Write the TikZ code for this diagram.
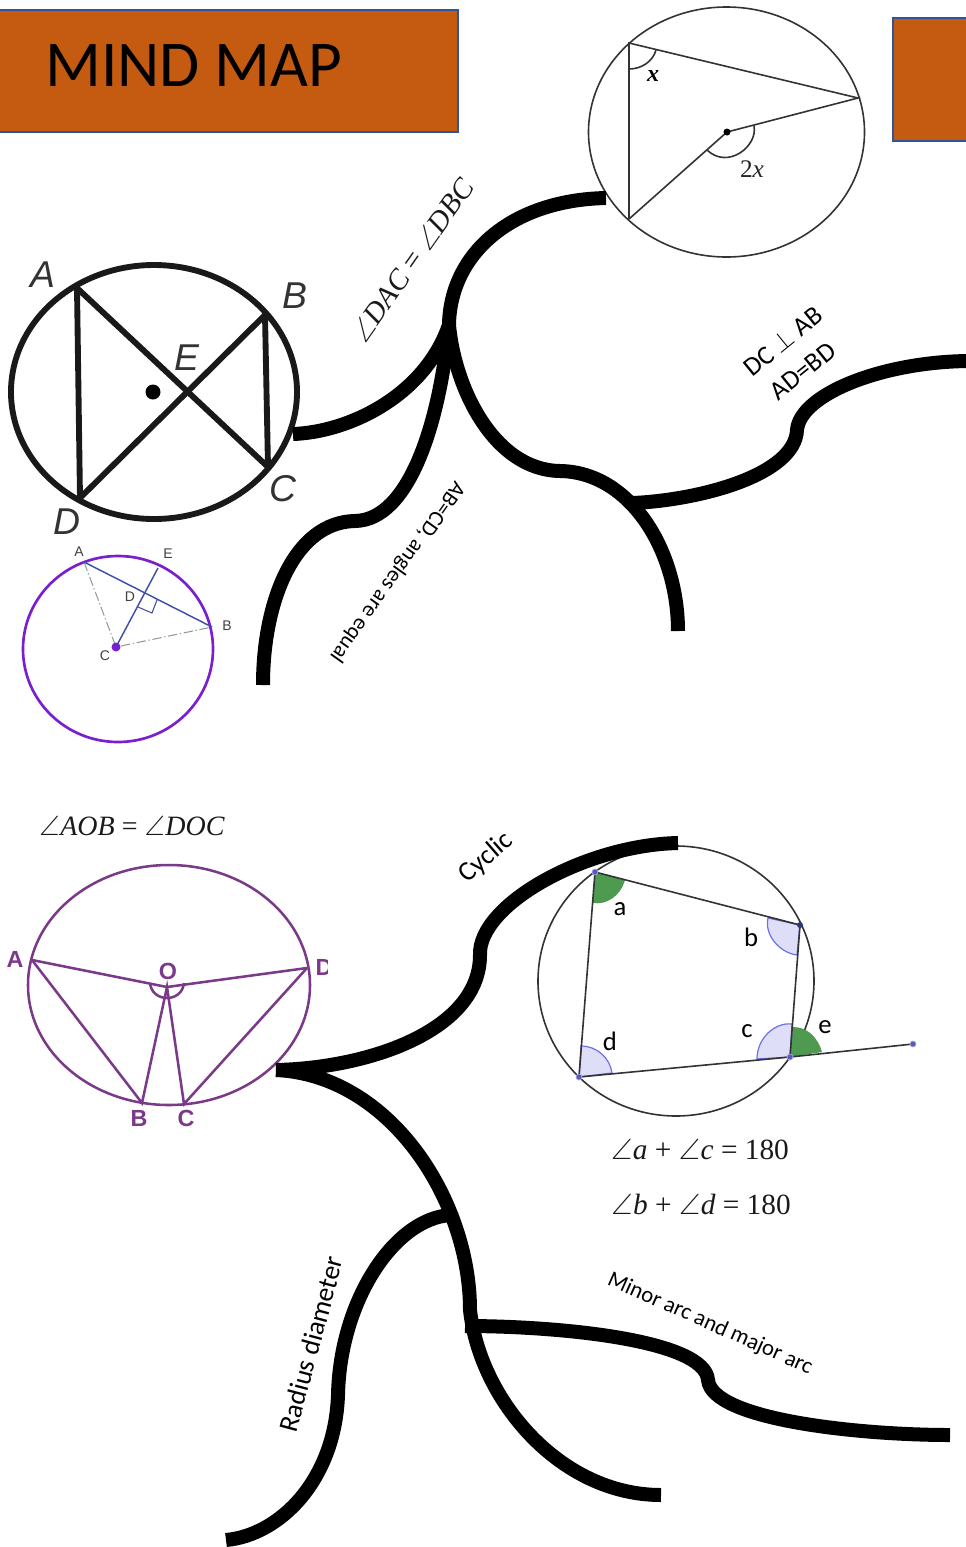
\documentclass[tikz,border=0pt]{standalone}
\usepackage{fix-cm}
\usepackage{amssymb}
\usepackage{fontspec}
\setmainfont{Carlito}
\newfontfamily\helvfont{Liberation Sans}
\newfontfamily\timesfont{Liberation Serif}
\usepackage{xcolor}
\usepackage{tikz}
\definecolor{BoxOrange}{HTML}{C55A11}
\definecolor{BoxEdge}{HTML}{2F5597}
\definecolor{ChordPurple}{HTML}{7A3A87}
\definecolor{RingViolet}{HTML}{7A1FD0}
\definecolor{ChordBlue}{HTML}{3F4FA8}
\definecolor{DashGrey}{HTML}{8FA08F}
\definecolor{SectorGreen}{HTML}{4E9A50}
\definecolor{SectorLilac}{HTML}{DEDEF8}
\definecolor{SectorEdge}{HTML}{6F6FE6}
\newcommand{\angvar}[1]{$\angle$\kern0.5pt{\itshape #1}}

\begin{document}
\begin{tikzpicture}[x=0.75pt, y=-0.75pt, every node/.style={inner sep=0pt, align=center}]
    \tikzstyle{orangebox}=[draw=BoxEdge, line width=1.6pt, fill=BoxOrange]
    \tikzstyle{branch}=[line width=10.5pt, black, line cap=butt]
    \tikzstyle{thickring}=[line width=4.4pt, black!90]
    \tikzstyle{thinring}=[line width=1.2pt, black!80]
    \tikzstyle{purplering}=[line width=1.9pt, ChordPurple]
    \tikzstyle{sketchlabel}=[font=\helvfont\itshape\fontsize{28}{30}\selectfont, text=black!80]
    \tikzstyle{smalllabel}=[font=\helvfont\fontsize{10.5}{12}\selectfont, text=black!75]
    \tikzstyle{purplelabel}=[font=\helvfont\bfseries\fontsize{17.5}{19}\selectfont, text=ChordPurple]
    \tikzstyle{anglelabel}=[font=\timesfont\fontsize{22}{24}\selectfont, text=black!90]
    \tikzstyle{formula}=[font=\timesfont\fontsize{21}{24}\selectfont, text=black!90]
    \tikzstyle{sumformula}=[font=\timesfont\fontsize{22}{24}\selectfont, text=black!90]
    \tikzstyle{sector}=[fill=SectorLilac, draw=SectorEdge, line width=0.9pt]
    \tikzstyle{vertexdot}=[fill=SectorEdge!80!black, draw=SectorEdge!60, line width=0.5pt]

    \useasboundingbox (0,0) rectangle (966,1547);

    % header boxes
    \draw[orangebox] (-6,10) rectangle (458,132);
    \draw[orangebox] (893,18) rectangle (975,141);
    \node[anchor=base west, font=\fontsize{49}{54}\selectfont] (title) at (45,86) {MIND MAP};

    % inscribed and central angle
    \coordinate (tl) at (629,43);
    \coordinate (tr) at (858,98);
    \coordinate (tb) at (629,219);
    \coordinate (tc) at (727,132);
    \draw[thinring] (726.5,132) ellipse [x radius=138, y radius=125];
    \draw[thinring] (tb) -- (tl) -- (tr) -- (tc) -- (tb);
    \draw[thinring] (629,69) .. controls (642,69) and (653,61) .. (656,50);
    \draw[thinring] (754,126) .. controls (758,146) and (728,170) .. (707,150);
    \fill (tc) circle (3.5);
    \node[font=\timesfont\bfseries\itshape\fontsize{18}{20}\selectfont] (xangle) at (653,76) {x};
    \node[font=\timesfont\fontsize{19}{20}\selectfont, text=black!85] (twox) at (752,169) {2\textit{x}};

    % equal angles on one chord
    \coordinate (ca) at (77,288);
    \coordinate (cb) at (265,315);
    \coordinate (cc) at (268,467);
    \coordinate (cd) at (80,498);
    \draw[thickring] (154,392) ellipse [x radius=143, y radius=127];
    \draw[thickring] (ca) -- (cc);
    \draw[thickring] (cb) -- (cd);
    \draw[thickring] (ca) -- (cd);
    \draw[thickring] (cb) -- (cc);
    \fill[black] (153,392) circle (7.5);
    \node[sketchlabel] (la) at (43,275) {A};
    \node[sketchlabel] (lb) at (295,296) {B};
    \node[sketchlabel] (le) at (187,358) {E};
    \node[sketchlabel] (lc) at (283,489) {C};
    \node[sketchlabel] (ld) at (67,522) {D};

    % perpendicular from the centre
    \coordinate (pa) at (84,562);
    \coordinate (pb) at (212,627);
    \coordinate (pc) at (116,647);
    \coordinate (pe) at (158,568);
    \draw[line width=2pt, RingViolet] (118,649) ellipse [x radius=95, y radius=93];
    \draw[line width=0.8pt, DashGrey, dash pattern=on 7pt off 2pt on 1pt off 2pt] (pa) -- (pc) -- (pb);
    \draw[line width=1.1pt, ChordBlue] (pa) -- (pb);
    \draw[line width=1.1pt, ChordBlue] (pc) -- (pe);
    \draw[line width=0.8pt, ChordBlue] (138,607) -- (152,613) -- (157,600);
    \fill[RingViolet] (pc) circle (4.5);
    \node[smalllabel] (pla) at (79,552) {A};
    \node[smalllabel] (ple) at (168,554) {E};
    \node[smalllabel] (pld) at (130,597) {D};
    \node[smalllabel] (plb) at (227,626) {B};
    \node[smalllabel] (plc) at (105,656) {C};

    % equal chords
    \node[formula] (aobdoc) at (132,826) {\angvar{AOB} = \angvar{DOC}};
    \coordinate (ea) at (32,960);
    \coordinate (ed) at (307,968);
    \coordinate (eb) at (142,1103);
    \coordinate (ec) at (184,1104);
    \coordinate (eo) at (167,987);
    \draw[purplering] (169,985) ellipse [x radius=141, y radius=120];
    \draw[purplering] (ea) -- (eo) -- (ed);
    \draw[purplering] (ea) -- (eb) -- (eo) -- (ec) -- (ed);
    \draw[purplering] (150,983) .. controls (152,1003) and (182,1003) .. (184,983);
    \node[purplelabel] (ela) at (15,959) {A};
    \node[purplelabel] (elo) at (168,971) {O};
    \node[purplelabel] (elb) at (139,1118) {B};
    \node[purplelabel] (elc) at (186,1118) {C};
    \begin{scope}
        \clip (310,950) rectangle (327,980);
        \node[purplelabel] (eld) at (324,967) {D};
    \end{scope}

    % cyclic quadrilateral
    \coordinate (qa) at (595,872);
    \coordinate (qb) at (800,925);
    \coordinate (qc) at (790,1057);
    \coordinate (qd) at (579,1077);
    \coordinate (qe) at (913,1044);
    \draw[thinring] (676,981) ellipse [x radius=138, y radius=135];
    \fill[SectorGreen] (qa) -- (625,880) .. controls (620,897) and (606,905) .. (593,903) -- cycle;
    \fill[SectorGreen] (qc) -- (822,1052) .. controls (818,1038) and (808,1027) .. (793,1027) -- cycle;
    \draw[sector] (768,918) .. controls (764,935) and (780,953) .. (797,955) -- (qb) -- cycle;
    \draw[sector] (757,1059) .. controls (757,1038) and (775,1022) .. (792,1024) -- (qc) -- cycle;
    \draw[sector] (581,1046) .. controls (597,1046) and (610,1058) .. (612,1073) -- (qd) -- cycle;
    \draw[thinring] (qa) -- (qb) -- (qc) -- (qd) -- cycle;
    \draw[thinring] (qc) -- (qe);
    \fill[vertexdot] (qa) circle (3);
    \fill[ChordBlue!70!black] (qb) circle (3);
    \fill[vertexdot] (qc) circle (3);
    \fill[vertexdot] (qd) circle (3);
    \fill[vertexdot] (qe) circle (3);
    \node[font=\fontsize{20}{24}\selectfont] (qla) at (620,909) {a};
    \node[font=\fontsize{20}{24}\selectfont] (qlb) at (751,937) {b};
    \node[font=\fontsize{20}{24}\selectfont] (qlc) at (747,1031) {c};
    \node[font=\fontsize{20}{24}\selectfont] (qld) at (610,1041) {d};
    \node[font=\fontsize{20}{24}\selectfont] (qle) at (825,1027) {e};
    \node[sumformula] (sumac) at (700,1149) {\angvar{a} + \angvar{c} = 180};
    \node[sumformula] (sumbd) at (701,1204) {\angvar{b} + \angvar{d} = 180};

    % top branches
    \coordinate (hubtop) at (449,325);
    \coordinate (chordend) at (293,434);
    \coordinate (circleend) at (606,198);
    \coordinate (equalend) at (263,685);
    \coordinate (forkone) at (633,503);
    \coordinate (forkend) at (678,631);
    \coordinate (perpend) at (968,361);
    \draw[branch] (chordend) .. controls (350,432) and (425,395) .. (hubtop);
    \draw[branch] (hubtop) .. controls (450,255) and (510,200) .. (circleend);
    \draw[branch] (equalend) .. controls (263,600) and (295,522) .. (355,521)
        .. controls (410,520) and (440,420) .. (hubtop);
    \draw[branch] (hubtop) .. controls (455,390) and (495,470) .. (560,471)
        .. controls (630,472) and (678,550) .. (forkend);
    \draw[branch] (forkone) .. controls (700,500) and (795,475) .. (797,430)
        .. controls (800,395) and (880,362) .. (perpend);

    % bottom branches
    \coordinate (hublow) at (276,1070);
    \coordinate (cyclicend) at (678,843);
    \coordinate (lowend) at (661,1495);
    \coordinate (radiusstart) at (451,1215);
    \coordinate (radiusend) at (226,1540);
    \coordinate (arcstart) at (465,1326);
    \coordinate (arcend) at (950,1435);
    \draw[branch] (hublow) .. controls (370,1068) and (480,1030) .. (480,955)
        .. controls (478,905) and (585,845) .. (cyclicend);
    \draw[branch] (hublow) .. controls (390,1075) and (470,1200) .. (470,1310)
        .. controls (480,1400) and (560,1495) .. (lowend);
    \draw[branch] (radiusstart) .. controls (395,1218) and (340,1300) .. (338,1395)
        .. controls (335,1480) and (280,1535) .. (radiusend);
    \draw[branch] (arcstart) .. controls (560,1326) and (705,1340) .. (708,1380)
        .. controls (712,1420) and (860,1435) .. (arcend);

    % branch labels
    \node[anglelabel, rotate=55] (dacdbc) at (412,260) {\angvar{DAC} = \angvar{DBC}};
    \node[font=\fontsize{20}{22}\selectfont, rotate=39] (perpab) at (783,341) {DC $\perp$ AB};
    \node[font=\fontsize{20}{22}\selectfont, rotate=39] (adbd) at (803,371) {AD=BD};
    \node[font=\fontsize{16.5}{19}\selectfont, rotate=234.5] (abcd) at (397,572) {AB=CD, angles are equal};
    \node[font=\fontsize{20.5}{24}\selectfont, rotate=41] (cyclic) at (486,858) {Cyclic};
    \node[font=\fontsize{20.5}{23}\selectfont, rotate=75] (radius) at (311,1344) {Radius diameter};
    \node[font=\fontsize{17}{20}\selectfont, rotate=-24] (minor) at (710,1324) {Minor arc and major arc};
\end{tikzpicture}
\end{document}
